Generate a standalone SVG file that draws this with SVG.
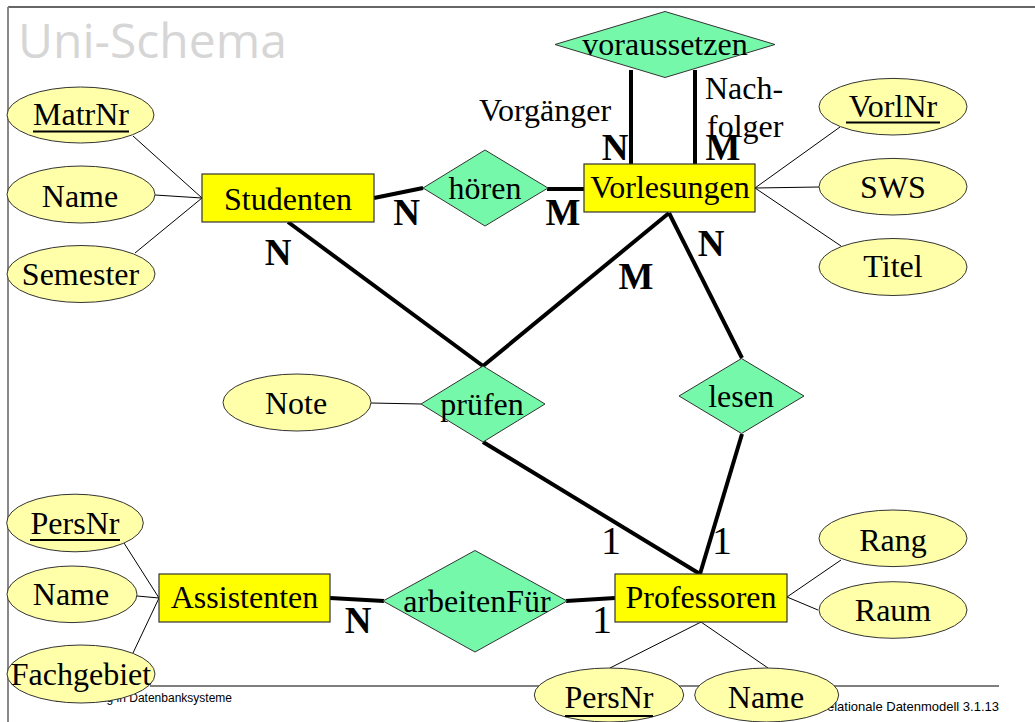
<svg xmlns="http://www.w3.org/2000/svg" width="1035" height="722" viewBox="0 0 1035 722">
<style>
.ent{fill:#ffff00;stroke:#333;stroke-width:1.2}
.rel{fill:#76f8aa;stroke:#333;stroke-width:1}
.att{fill:#ffffaa;stroke:#333;stroke-width:1}
.t{font-family:"Liberation Serif","Times New Roman",serif;font-size:32px;fill:#000;text-anchor:middle}
.tl{font-family:"Liberation Serif","Times New Roman",serif;font-size:32px;fill:#000}
.card{font-family:"Liberation Serif","Times New Roman",serif;font-size:37px;font-weight:bold;fill:#000;text-anchor:middle}
.one{font-family:"Liberation Serif","Times New Roman",serif;font-size:40px;fill:#000;text-anchor:middle}
.thin{stroke:#000;stroke-width:1;fill:none}
.thick{stroke:#000;stroke-width:4;fill:none}
.ul{stroke:#000;stroke-width:2}
.foot{font-family:"Liberation Sans",Arial,sans-serif;fill:#000}
</style>
<rect width="1035" height="722" fill="#fff"/>
<g id="frame">
<line x1="8" y1="7" x2="1035" y2="7" stroke="#333" stroke-width="1.5"/>
<line x1="8" y1="7" x2="8" y2="722" stroke="#888" stroke-width="2"/>
<line x1="150" y1="686" x2="999" y2="686" stroke="#000" stroke-width="1.2"/>
<text class="foot" x="232" y="702" font-size="12" text-anchor="end">Einführung in Datenbanksysteme</text>
<text class="foot" x="999" y="711" font-size="13" text-anchor="end">Das relationale Datenmodell 3.1.13</text>
<text x="18" y="58" font-family="'Open Sans','Noto Sans',sans-serif" font-size="48" fill="#d6d6d6">Uni-Schema</text>
</g>
<g id="connectors">
<line class="thin" x1="202" y1="198" x2="133" y2="136"/>
<line class="thin" x1="202" y1="198" x2="155" y2="195"/>
<line class="thin" x1="202" y1="198" x2="135" y2="253"/>
<line class="thin" x1="755" y1="188" x2="840" y2="127"/>
<line class="thin" x1="755" y1="188" x2="819" y2="187"/>
<line class="thin" x1="755" y1="188" x2="841" y2="246"/>
<line class="thin" x1="371" y1="403" x2="421" y2="404"/>
<line class="thin" x1="159" y1="598" x2="124" y2="543"/>
<line class="thin" x1="159" y1="598" x2="137" y2="596"/>
<line class="thin" x1="159" y1="598" x2="133" y2="653"/>
<line class="thin" x1="787" y1="597" x2="841" y2="560"/>
<line class="thin" x1="787" y1="597" x2="818" y2="610"/>
<line class="thin" x1="701" y1="622" x2="610" y2="668"/>
<line class="thin" x1="701" y1="622" x2="768" y2="668"/>
<line class="thick" x1="374" y1="198" x2="423" y2="188"/>
<line class="thick" x1="547" y1="189" x2="584" y2="189"/>
<line class="thick" x1="631" y1="70" x2="631" y2="164"/>
<line class="thick" x1="695" y1="70" x2="695" y2="164"/>
<line class="thick" x1="288" y1="222" x2="483" y2="366"/>
<line class="thick" x1="669" y1="213" x2="483" y2="366"/>
<line class="thick" x1="669" y1="213" x2="742" y2="358"/>
<line class="thick" x1="483" y1="442" x2="700" y2="574"/>
<line class="thick" x1="742" y1="434" x2="700" y2="574"/>
<line class="thick" x1="330" y1="598" x2="384" y2="601"/>
<line class="thick" x1="566" y1="601" x2="615" y2="598"/>
</g>
<g id="Studenten"><rect class="ent" x="202" y="174" width="172" height="48"/><text class="t" x="288" y="210">Studenten</text></g>
<g id="Vorlesungen"><rect class="ent" x="584" y="164" width="171" height="48"/><text class="t" x="670" y="198">Vorlesungen</text></g>
<g id="Professoren"><rect class="ent" x="615" y="574" width="172" height="48"/><text class="t" x="701" y="608">Professoren</text></g>
<g id="Assistenten"><rect class="ent" x="159" y="574" width="171" height="48"/><text class="t" x="244.5" y="608">Assistenten</text></g>
<g id="hoeren"><polygon class="rel" points="423,188 485,150 548,188 485,226"/><text class="t" x="485" y="199">hören</text></g>
<g id="voraussetzen"><polygon class="rel" points="555,44.5 665,11.5 775,44.5 665,77.5"/><text class="t" x="665" y="55">voraussetzen</text></g>
<g id="pruefen"><polygon class="rel" points="421,404 483,366 545,404 483,442"/><text class="t" x="482" y="415">prüfen</text></g>
<g id="lesen"><polygon class="rel" points="679,396 741.5,358.5 804,396 741.5,433.5"/><text class="t" x="741" y="407">lesen</text></g>
<g id="arbeitenFuer"><polygon class="rel" points="383,601 475,550.5 567,601 475,652"/><text class="t" x="477" y="612">arbeitenFür</text></g>
<g id="att-MatrNr"><ellipse class="att" cx="80.5" cy="115" rx="73.5" ry="28"/><text class="t" x="81" y="125">MatrNr</text><line class="ul" x1="33" y1="131.5" x2="129" y2="131.5"/></g>
<g id="att-S-Name"><ellipse class="att" cx="81" cy="194.5" rx="74" ry="28.5"/><text class="t" x="80" y="207">Name</text></g>
<g id="att-Semester"><ellipse class="att" cx="81" cy="274" rx="74" ry="28.5"/><text class="t" x="80.5" y="285">Semester</text></g>
<g id="att-VorlNr"><ellipse class="att" cx="893" cy="106.7" rx="74" ry="28.3"/><text class="t" x="893" y="117">VorlNr</text><line class="ul" x1="846" y1="122.5" x2="940" y2="122.5"/></g>
<g id="att-SWS"><ellipse class="att" cx="893" cy="186.7" rx="74" ry="28.3"/><text class="t" x="893" y="198">SWS</text></g>
<g id="att-Titel"><ellipse class="att" cx="893" cy="267" rx="74" ry="28.5"/><text class="t" x="893" y="277">Titel</text></g>
<g id="att-Note"><ellipse class="att" cx="297" cy="402.5" rx="74" ry="28.5"/><text class="t" x="296" y="414">Note</text></g>
<g id="att-Rang"><ellipse class="att" cx="893" cy="538.3" rx="74" ry="28.3"/><text class="t" x="893" y="551">Rang</text></g>
<g id="att-Raum"><ellipse class="att" cx="893" cy="610" rx="74" ry="28.3"/><text class="t" x="893" y="621">Raum</text></g>
<g id="att-P-PersNr"><ellipse class="att" cx="609" cy="695" rx="74.7" ry="27"/><text class="t" x="609" y="708">PersNr</text><line class="ul" x1="565" y1="716" x2="653" y2="716"/></g>
<g id="att-P-Name"><ellipse class="att" cx="766.7" cy="695" rx="72" ry="27"/><text class="t" x="766" y="708">Name</text></g>
<g id="att-A-PersNr"><ellipse class="att" cx="75" cy="523" rx="68.3" ry="28.8"/><text class="t" x="75" y="534">PersNr</text><line class="ul" x1="30" y1="540" x2="120" y2="540"/></g>
<g id="att-A-Name"><ellipse class="att" cx="72" cy="594.3" rx="65" ry="28.3"/><text class="t" x="71" y="605">Name</text></g>
<g id="att-Fachgebiet"><ellipse class="att" cx="81" cy="674" rx="74" ry="29"/><text class="t" x="81" y="685">Fachgebiet</text></g>
<g id="labels">
<text class="tl" x="479" y="121">Vorgänger</text>
<text class="tl" x="705" y="99">Nach-</text>
<text class="tl" x="707" y="137">folger</text>
<text class="card" x="406.5" y="225">N</text>
<text class="card" x="563" y="225">M</text>
<text class="card" x="278" y="265">N</text>
<text class="card" x="615" y="160">N</text>
<text class="card" x="723" y="160">M</text>
<text class="card" x="636" y="289">M</text>
<text class="card" x="711" y="256">N</text>
<text class="card" x="358" y="633">N</text>
<text class="one" x="611" y="554">1</text>
<text class="one" x="722" y="554">1</text>
<text class="one" x="602" y="633">1</text>
</g>
</svg>
